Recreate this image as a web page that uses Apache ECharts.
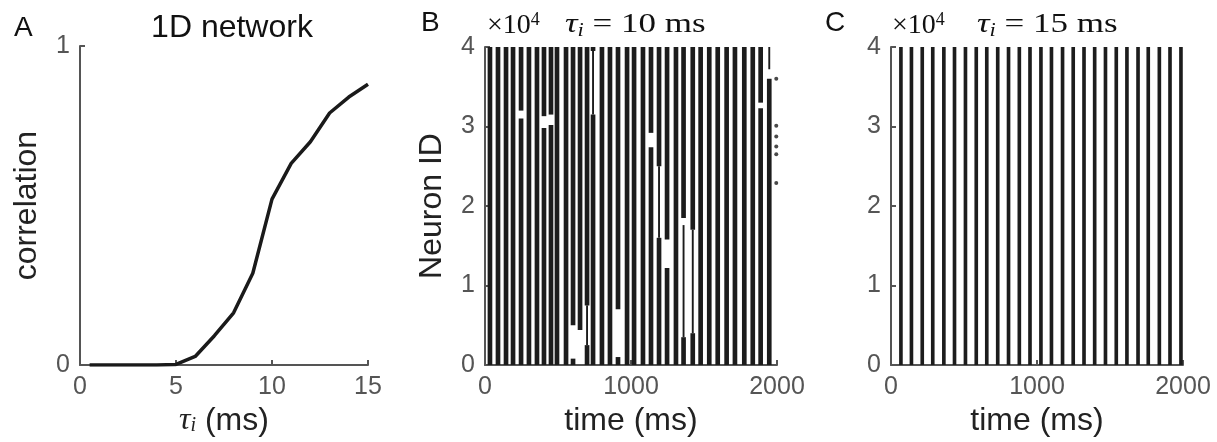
<!DOCTYPE html>
<html>
<head>
<meta charset="utf-8">
<script src="https://cdn.jsdelivr.net/npm/echarts@6/dist/echarts.min.js"></script>
<style>
html,body{margin:0;padding:0;background:#fff;}
#chart{width:1217px;height:442px;}
</style>
</head>
<body>
<div id="chart"></div>
<script>
// Panel A: correlation vs tau_i
const tauI = [0.5, 1, 2, 3, 4, 5, 6, 7, 8, 9, 10, 11, 12, 13, 14, 15];
const correlation = [0, 0, 0, 0, 0, 0.002, 0.027, 0.092, 0.164, 0.288, 0.52, 0.632, 0.70, 0.79, 0.84, 0.88];

// Panel B: burst times (ms) for tau_i = 10 ms
const burstTimesB = [34, 89, 144, 192, 247, 301, 356, 404, 452, 493, 555, 603, 651, 699, 740, 801, 856, 911, 973, 1021, 1082, 1137, 1192, 1247, 1308, 1360, 1423, 1477, 1536, 1594, 1655, 1712, 1776, 1834, 1888, 1947];
// Panel B: empty stretches inside bursts [burst time, from neuron ID, to neuron ID]
const gapsB = [
  [247, 31000, 32000], [404, 29800, 31300], [452, 30200, 31500],
  [603, 800, 5000], [651, 0, 4400], [911, 1000, 7000],
  [1137, 27400, 29200], [1247, 12200, 15800], [1360, 17600, 18500],
  [1888, 32300, 33000], [1947, 36000, 37200]
];
// Panel B: thinly populated stretches [burst time, from neuron ID, to neuron ID]
const sparseB = [
  [740, 31500, 39500], [1192, 16000, 25000], [1360, 3500, 17600],
  [1423, 4000, 17000], [1947, 37200, 40000], [699, 2500, 7500]
];
// Panel B: isolated spikes after the last burst (time ms, neuron ID)
const strayTimesB = [1995, 1995, 1995, 1995, 1995, 1995];
const strayIdsB = [36000, 30100, 28750, 27500, 26500, 22900];

// Panel C: burst times (ms) for tau_i = 15 ms
const burstTimesC = [68, 140, 214, 286, 362, 435, 510, 584, 656, 731, 805, 879, 952, 1027, 1099, 1175, 1248, 1322, 1395, 1469, 1543, 1616, 1692, 1762, 1838, 1911, 1986];

const neuronMin = 0, neuronMax = 40000;
const yTicksA = [0, 1];

const AX = '#555555';
const INK = '#1c1c1c';
const SANS = 'Liberation Sans';
const SERIF = 'Liberation Serif';
const DENSE_W_B = 32, SPARSE_W_B = 13, W_C = 25;

// split each burst into segments [t, id0, id1, widthMs]
function buildSegments(times, gaps, sparse, denseW, sparseW) {
  const segs = [];
  times.forEach(t => {
    const cuts = [];
    gaps.filter(g => g[0] === t).forEach(g => cuts.push([g[1], g[2], 0]));
    sparse.filter(s => s[0] === t).forEach(s => cuts.push([s[1], s[2], sparseW]));
    cuts.sort((a, b) => a[0] - b[0]);
    let cur = neuronMin;
    cuts.forEach(c => {
      if (c[0] > cur) segs.push([t, cur, c[0], denseW]);
      if (c[2] > 0) segs.push([t, c[0], c[1], c[2]]);
      cur = Math.max(cur, c[1]);
    });
    if (cur < neuronMax) segs.push([t, cur, neuronMax, denseW]);
  });
  return segs;
}

function axisCommon() {
  return {
    axisLine: { show: true, lineStyle: { color: AX, width: 2 } },
    axisTick: { show: true, inside: true, length: 5, lineStyle: { color: AX, width: 2 } },
    axisLabel: { color: AX, fontSize: 25, fontFamily: SANS, margin: 10 },
    splitLine: { show: false },
    nameTextStyle: { color: '#222', fontSize: 32, fontFamily: SANS }
  };
}

function renderStripe(params, api) {
  const t = api.value(0), w = api.value(3);
  const pTop = api.coord([t - w / 2, api.value(2)]);
  const pBot = api.coord([t + w / 2, api.value(1)]);
  return {
    type: 'rect',
    shape: { x: pTop[0], y: pTop[1], width: pBot[0] - pTop[0], height: pBot[1] - pTop[1] },
    style: { fill: INK }
  };
}

const timeLabel = { color: AX, fontSize: 25, fontFamily: SANS, margin: 10, formatter: v => String(v) };
const idLabel = { color: AX, fontSize: 25, fontFamily: SANS, margin: 10, formatter: v => String(v / 10000) };

function serifTitle(x, y, text, scale) {
  return {
    type: 'text', x: x, y: y, scaleX: scale,
    style: {
      text: text, fill: '#111',
      rich: {
        a: { fontFamily: SERIF, fontSize: 28, lineHeight: 30, fill: '#111' },
        p: { fontFamily: SERIF, fontSize: 18, lineHeight: 18, verticalAlign: 'top', fill: '#111' },
        t: { fontFamily: SERIF, fontStyle: 'italic', fontSize: 28, lineHeight: 30, fill: '#111' },
        s: { fontFamily: SERIF, fontStyle: 'italic', fontSize: 18, lineHeight: 14, verticalAlign: 'bottom', fill: '#111' },
        n: { fontFamily: SERIF, fontSize: 28, lineHeight: 30, fill: '#111' }
      }
    }
  };
}

const chart = echarts.init(document.getElementById('chart'), null, { renderer: 'canvas' });

const option = {
  backgroundColor: '#fff',
  animation: false,
  grid: [
    { left: 80, top: 46, width: 288, height: 323 },
    { left: 485, top: 47, width: 292, height: 322 },
    { left: 891, top: 47, width: 292, height: 322 }
  ],
  xAxis: [
    Object.assign(axisCommon(), {
      gridIndex: 0, type: 'value', min: 0, max: 15, interval: 5,
      name: '{t|τ}{s|i}{n| (ms)}', nameLocation: 'middle', nameGap: 40,
      nameTextStyle: {
        rich: {
          t: { fontFamily: SERIF, fontStyle: 'italic', fontSize: 32, lineHeight: 30, color: '#222' },
          s: { fontFamily: SERIF, fontStyle: 'italic', fontSize: 20, lineHeight: 14, color: '#222', verticalAlign: 'bottom' },
          n: { fontFamily: SANS, fontSize: 32, lineHeight: 30, color: '#222' }
        }
      }
    }),
    Object.assign(axisCommon(), {
      gridIndex: 1, type: 'value', min: 0, max: 2000, interval: 1000, axisLabel: timeLabel,
      name: 'time (ms)', nameLocation: 'middle', nameGap: 40
    }),
    Object.assign(axisCommon(), {
      gridIndex: 2, type: 'value', min: 0, max: 2000, interval: 1000, axisLabel: timeLabel,
      name: 'time (ms)', nameLocation: 'middle', nameGap: 40
    })
  ],
  yAxis: [
    Object.assign(axisCommon(), {
      gridIndex: 0, type: 'value', min: yTicksA[0], max: yTicksA[1], interval: 1,
      name: 'correlation', nameLocation: 'middle', nameGap: 37, nameRotate: 90
    }),
    Object.assign(axisCommon(), {
      gridIndex: 1, type: 'value', min: neuronMin, max: neuronMax, interval: 10000, axisLabel: idLabel,
      name: 'Neuron ID', nameLocation: 'middle', nameGap: 37, nameRotate: 90
    }),
    Object.assign(axisCommon(), {
      gridIndex: 2, type: 'value', min: neuronMin, max: neuronMax, interval: 10000, axisLabel: idLabel
    })
  ],
  series: [
    {
      type: 'line', xAxisIndex: 0, yAxisIndex: 0,
      data: tauI.map((x, i) => [x, correlation[i]]),
      showSymbol: false, symbol: 'none',
      lineStyle: { color: '#1a1a1a', width: 3.5 },
      z: 3
    },
    {
      type: 'custom', xAxisIndex: 1, yAxisIndex: 1,
      renderItem: renderStripe,
      data: buildSegments(burstTimesB, gapsB, sparseB, DENSE_W_B, SPARSE_W_B),
      clip: true
    },
    {
      type: 'scatter', xAxisIndex: 1, yAxisIndex: 1,
      data: strayTimesB.map((t, i) => [t, strayIdsB[i]]),
      symbolSize: 4, itemStyle: { color: INK }
    },
    {
      type: 'custom', xAxisIndex: 2, yAxisIndex: 2,
      renderItem: renderStripe,
      data: buildSegments(burstTimesC, [], [], W_C, 0),
      clip: true
    }
  ],
  graphic: [
    { type: 'text', x: 14, y: 14, style: { text: 'A', fontSize: 28, fontFamily: SANS, fill: '#111' } },
    { type: 'text', x: 421, y: 9, style: { text: 'B', fontSize: 28, fontFamily: SANS, fill: '#111' } },
    { type: 'text', x: 825, y: 9, style: { text: 'C', fontSize: 28, fontFamily: SANS, fill: '#111' } },
    { type: 'text', x: 232, y: 12, style: { text: '1D network', fontSize: 32, fontFamily: SANS, fill: '#111', align: 'center' } },
    serifTitle(487, 11, '{a|×10}{p|4}', 1),
    serifTitle(565, 10, '{t|τ}{s|i}{n| = 10 ms}', 1.25),
    serifTitle(892, 11, '{a|×10}{p|4}', 1),
    serifTitle(977, 10, '{t|τ}{s|i}{n| = 15 ms}', 1.25)
  ]
};
chart.setOption(option);
</script>
</body>
</html>
